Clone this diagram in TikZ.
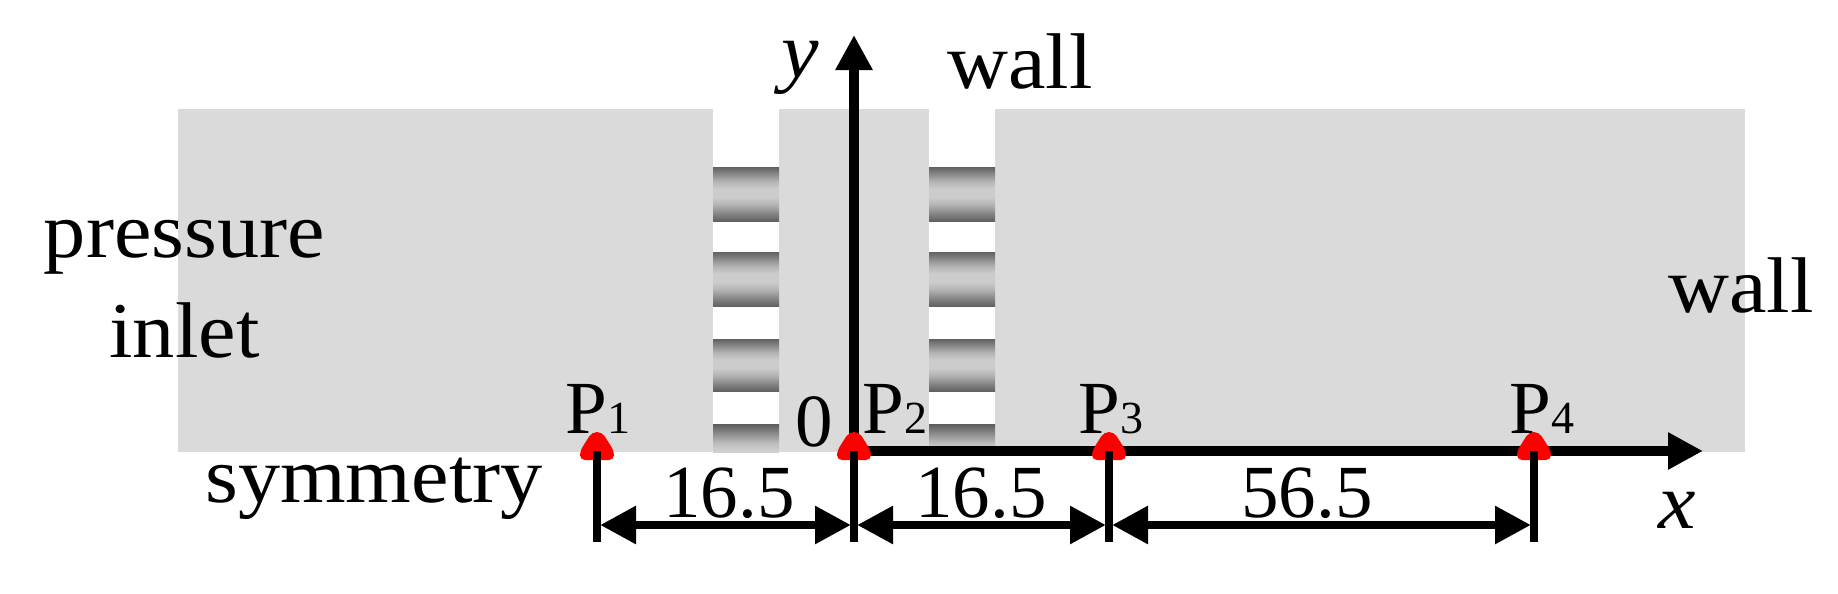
\documentclass[tikz,border=0pt]{standalone}
\usepackage{fontspec}
\setmainfont[FakeStretch=1.068]{Liberation Serif}
\newfontfamily\plainserif{Liberation Serif}
\usetikzlibrary{arrows.meta}
\newcommand{\bigtext}{\fontsize{39.5}{48}\selectfont}
\newcommand{\numtext}{\plainserif\fontsize{37.5}{46}\selectfont}
\newcommand{\subnum}[1]{{\fontsize{23}{28}\selectfont #1}}
\definecolor{wallgray}{HTML}{DADADA}
% TikZ fits the central 50bp (25bp to 75bp) of a shading to the path
\pgfdeclareverticalshading{bandshade}{100bp}{
  color(0bp)=(black!62);
  color(25bp)=(black!62);
  color(31bp)=(black!50);
  color(40bp)=(black!30);
  color(47bp)=(black!20);
  color(55bp)=(black!20);
  color(62bp)=(black!30);
  color(70bp)=(black!50);
  color(75bp)=(black!62);
  color(100bp)=(black!62)}
\pgfdeclareverticalshading{lastshade}{100bp}{
  color(0bp)=(black!18);
  color(25bp)=(black!18);
  color(40bp)=(black!25);
  color(67bp)=(black!55);
  color(75bp)=(black!64);
  color(100bp)=(black!64)}
\tikzset{
  lab/.style={anchor=base,inner sep=0pt,font=\bigtext},
  num/.style={anchor=base,inner sep=0pt,font=\numtext},
  axisline/.style={line width=4.6pt,-{Triangle[length=17.5pt,width=17.5pt]}},
  dimline/.style={line width=4.4pt,{Triangle[length=18pt,width=18pt]}-{Triangle[length=18pt,width=18pt]},shorten <=1.5pt,shorten >=1.5pt},
  dimtick/.style={line width=3.9pt},
  band/.style={shading=bandshade},
  lastband/.style={shading=lastshade},
  marker/.style={fill=red,rounded corners=2.5pt}
}
\begin{document}
\begin{tikzpicture}[x=0.5pt,y=-0.5pt]
\useasboundingbox (0,0) rectangle (1838,594);
% domain
\fill[wallgray] (178,109) rectangle (1745,452);
\foreach \sx in {713,929}{
  \fill[white] (\sx,109) rectangle (\sx+66,452);
  \shade[band] (\sx,167) rectangle (\sx+66,221);
  \shade[band] (\sx,252) rectangle (\sx+66,306);
  \shade[band] (\sx,339) rectangle (\sx+66,391);
  \shade[lastband] (\sx,424) rectangle (\sx+66,452);
}
% points
\coordinate (o) at (854,451);
\coordinate (yend) at (854,35);
\coordinate (xend) at (1703,451);
\coordinate (p1) at (597,451);
\coordinate (p2) at (854,451);
\coordinate (p3) at (1109,451);
\coordinate (p4) at (1534,451);
\coordinate (d1) at (597,525);
\coordinate (d2) at (854,525);
\coordinate (d3) at (1109,525);
\coordinate (d4) at (1534,525);
\coordinate (t1) at (597,542);
\coordinate (t2) at (854,542);
\coordinate (t3) at (1109,542);
\coordinate (t4) at (1534,542);
% axes
\draw[axisline] (o) -- (yend);
\draw[axisline] (o) -- (xend);
% markers
\foreach \p in {p1,p2,p3,p4}{
  \fill[marker,shift={(\p)}] (-5,-19) -- (5,-19) -- (17,0) -- (17,9) -- (-17,9) -- (-17,0) -- cycle;
}
% dimension lines
\foreach \i in {1,2,3,4}{
  \draw[dimtick] (p\i) -- (t\i);
}
\draw[dimline] (d1) -- (d2);
\draw[dimline] (d2) -- (d3);
\draw[dimline] (d3) -- (d4);
% labels
\node[lab] (ly) at (800,77) {\itshape y};
\node[lab] (lwt) at (1020,88) {wall};
\node[lab] (lp) at (184.5,257) {pressure};
\node[lab] (li) at (184.5,357) {inlet};
\node[lab] (lwr) at (1741,312) {wall};
\node[lab] (ls) at (374,502) {symmetry};
\node[num] (lp1) at (598,433) {P\subnum{1}};
\node[num] (l0) at (814,446) {0};
\node[num] (lp2) at (895,433) {P\subnum{2}};
\node[num] (lp3) at (1111,433) {P\subnum{3}};
\node[num] (lp4) at (1542,433) {P\subnum{4}};
\node[num] (ld1) at (729,517) {16.5};
\node[num] (ld2) at (981,517) {16.5};
\node[num] (ld3) at (1307,517) {56.5};
\node[lab] (lx) at (1677,528) {\itshape x};
\end{tikzpicture}
\end{document}
